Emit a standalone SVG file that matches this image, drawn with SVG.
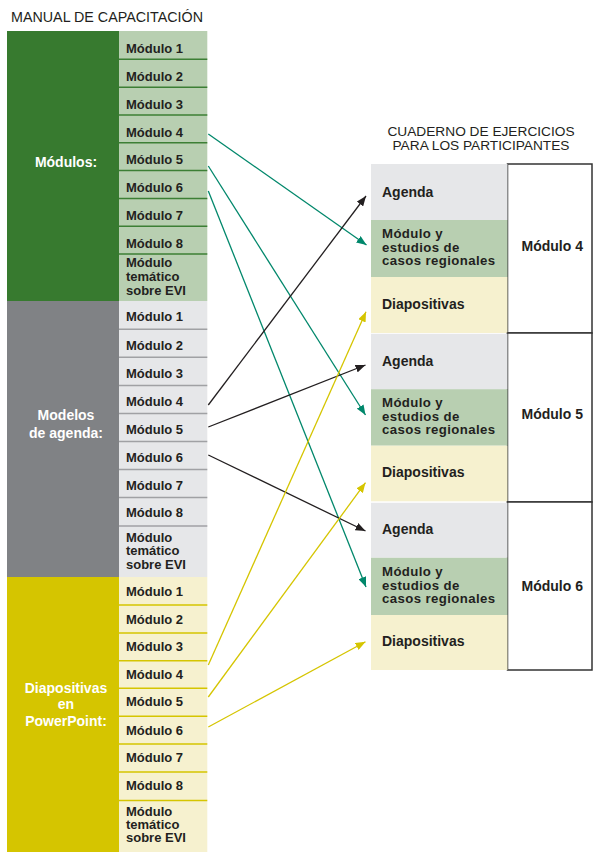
<svg xmlns="http://www.w3.org/2000/svg" width="594" height="856" viewBox="0 0 594 856">
<style>
.hdr{font-family:"Liberation Sans",Arial,sans-serif;font-size:14.3px;fill:#231f20}
.c{font-family:"Liberation Sans",Arial,sans-serif;font-size:13px;font-weight:bold;fill:#231f20}
.r{font-family:"Liberation Sans",Arial,sans-serif;font-size:14px;font-weight:bold;fill:#231f20}
.m{font-family:"Liberation Sans",Arial,sans-serif;font-size:13.2px;letter-spacing:0.4px;font-weight:bold;fill:#231f20}
.w{font-family:"Liberation Sans",Arial,sans-serif;font-size:14px;font-weight:bold;fill:#ffffff;text-anchor:middle}
.sg{stroke:#3c7f35;stroke-width:1.5}
.sy{stroke:#a0a1a4;stroke-width:1.5}
.sl{stroke:#d5c500;stroke-width:1.5}
.frame{fill:#ffffff;stroke:#333333;stroke-width:1.5}
.ln{fill:none;stroke-width:1.3}
</style>
<defs>
<marker id="ag" markerUnits="userSpaceOnUse" markerWidth="10" markerHeight="8" refX="10" refY="4" orient="auto"><path d="M0,0 L10,4 L0,8 Z" fill="#00876b"/></marker>
<marker id="ak" markerUnits="userSpaceOnUse" markerWidth="10" markerHeight="8" refX="10" refY="4" orient="auto"><path d="M0,0 L10,4 L0,8 Z" fill="#231f20"/></marker>
<marker id="ay" markerUnits="userSpaceOnUse" markerWidth="10" markerHeight="8" refX="10" refY="4" orient="auto"><path d="M0,0 L10,4 L0,8 Z" fill="#d5c500"/></marker>
</defs>
<rect width="594" height="856" fill="#ffffff"/>
<text class="hdr" x="11" y="21.5">MANUAL DE CAPACITACIÓN</text>
<text class="hdr" x="481" y="136" text-anchor="middle" style="font-size:13.7px">CUADERNO DE EJERCICIOS</text>
<text class="hdr" x="481" y="149.5" text-anchor="middle" style="font-size:13.7px">PARA LOS PARTICIPANTES</text>

<g id="modulos">
<rect x="7" y="31" width="112" height="270" fill="#377a2f"/>
<rect x="119" y="31" width="88.3" height="270" fill="#b8cfb1"/>
<text class="w" x="66" y="167">Módulos:</text>
<g class="sg">
<line x1="119" y1="59.3" x2="207.3" y2="59.3"/><line x1="119" y1="87.2" x2="207.3" y2="87.2"/>
<line x1="119" y1="115" x2="207.3" y2="115"/><line x1="119" y1="142.8" x2="207.3" y2="142.8"/>
<line x1="119" y1="170.6" x2="207.3" y2="170.6"/><line x1="119" y1="198.4" x2="207.3" y2="198.4"/>
<line x1="119" y1="226.2" x2="207.3" y2="226.2"/><line x1="119" y1="254" x2="207.3" y2="254"/>
</g>
<text class="c" x="126" y="53">Módulo 1</text>
<text class="c" x="126" y="81">Módulo 2</text>
<text class="c" x="126" y="109">Módulo 3</text>
<text class="c" x="126" y="136.5">Módulo 4</text>
<text class="c" x="126" y="164.3">Módulo 5</text>
<text class="c" x="126" y="192.1">Módulo 6</text>
<text class="c" x="126" y="219.9">Módulo 7</text>
<text class="c" x="126" y="247.7">Módulo 8</text>
<text class="c" x="126" y="267.3">Módulo</text>
<text class="c" x="126" y="281">temático</text>
<text class="c" x="126" y="294.5">sobre EVI</text>
</g>

<g id="agenda">
<rect x="7" y="301" width="112" height="276" fill="#808285"/>
<rect x="119" y="301" width="88.3" height="276" fill="#e6e7e9"/>
<text class="w" x="66" y="420">Modelos</text>
<text class="w" x="66" y="437.5">de agenda:</text>
<g class="sy">
<line x1="119" y1="329.2" x2="207.3" y2="329.2"/><line x1="119" y1="357.3" x2="207.3" y2="357.3"/>
<line x1="119" y1="385.5" x2="207.3" y2="385.5"/><line x1="119" y1="413.5" x2="207.3" y2="413.5"/>
<line x1="119" y1="441.5" x2="207.3" y2="441.5"/><line x1="119" y1="469.5" x2="207.3" y2="469.5"/>
<line x1="119" y1="497.5" x2="207.3" y2="497.5"/><line x1="119" y1="526" x2="207.3" y2="526"/>
</g>
<text class="c" x="126" y="321.3">Módulo 1</text>
<text class="c" x="126" y="349.5">Módulo 2</text>
<text class="c" x="126" y="377.6">Módulo 3</text>
<text class="c" x="126" y="405.8">Módulo 4</text>
<text class="c" x="126" y="433.8">Módulo 5</text>
<text class="c" x="126" y="461.8">Módulo 6</text>
<text class="c" x="126" y="489.8">Módulo 7</text>
<text class="c" x="126" y="517">Módulo 8</text>
<text class="c" x="126" y="541.7">Módulo</text>
<text class="c" x="126" y="555.3">temático</text>
<text class="c" x="126" y="569">sobre EVI</text>
</g>

<g id="diapositivas">
<rect x="7" y="577" width="112" height="275" fill="#d5c500"/>
<rect x="119" y="577" width="88.3" height="275" fill="#f6f1cf"/>
<text class="w" x="66" y="692.7">Diapositivas</text>
<text class="w" x="66" y="709.3">en</text>
<text class="w" x="66" y="725.5">PowerPoint:</text>
<g class="sl">
<line x1="119" y1="605" x2="207.3" y2="605"/><line x1="119" y1="633" x2="207.3" y2="633"/>
<line x1="119" y1="660.7" x2="207.3" y2="660.7"/><line x1="119" y1="688.3" x2="207.3" y2="688.3"/>
<line x1="119" y1="716.3" x2="207.3" y2="716.3"/><line x1="119" y1="744" x2="207.3" y2="744"/>
<line x1="119" y1="772" x2="207.3" y2="772"/><line x1="119" y1="800.5" x2="207.3" y2="800.5"/>
</g>
<text class="c" x="126" y="596">Módulo 1</text>
<text class="c" x="126" y="623.5">Módulo 2</text>
<text class="c" x="126" y="650.5">Módulo 3</text>
<text class="c" x="126" y="678.5">Módulo 4</text>
<text class="c" x="126" y="706.3">Módulo 5</text>
<text class="c" x="126" y="734.5">Módulo 6</text>
<text class="c" x="126" y="762">Módulo 7</text>
<text class="c" x="126" y="790">Módulo 8</text>
<text class="c" x="126" y="815.7">Módulo</text>
<text class="c" x="126" y="829">temático</text>
<text class="c" x="126" y="842.3">sobre EVI</text>
</g>

<g id="cuaderno-modulo4">
<rect class="frame" x="507.5" y="164" width="84.5" height="169"/>
<rect x="371" y="164" width="136.5" height="56" fill="#e6e7e9"/>
<rect x="371" y="220" width="136.5" height="57" fill="#b8cfb1"/>
<rect x="371" y="277" width="136.5" height="56" fill="#f6f1cf"/>
<text class="r" x="382" y="196.5">Agenda</text>
<text class="m" x="382" y="238.3">Módulo y</text>
<text class="m" x="382" y="251.8">estudios de</text>
<text class="m" x="382" y="265.3">casos regionales</text>
<text class="r" x="382" y="309">Diapositivas</text>
<text class="r" x="521.5" y="251">Módulo 4</text>
</g>

<g id="cuaderno-modulo5">
<rect class="frame" x="507.5" y="333" width="84.5" height="169"/>
<rect x="371" y="333.8" width="136.5" height="55.4" fill="#e6e7e9"/>
<rect x="371" y="389.2" width="136.5" height="56.5" fill="#b8cfb1"/>
<rect x="371" y="445.7" width="136.5" height="55.6" fill="#f6f1cf"/>
<text class="r" x="382" y="366">Agenda</text>
<text class="m" x="382" y="407.3">Módulo y</text>
<text class="m" x="382" y="420.8">estudios de</text>
<text class="m" x="382" y="434.3">casos regionales</text>
<text class="r" x="382" y="477">Diapositivas</text>
<text class="r" x="521.5" y="419">Módulo 5</text>
</g>

<g id="cuaderno-modulo6">
<rect class="frame" x="507.5" y="502" width="84.5" height="168"/>
<rect x="371" y="502.8" width="136.5" height="55" fill="#e6e7e9"/>
<rect x="371" y="557.8" width="136.5" height="57.2" fill="#b8cfb1"/>
<rect x="371" y="615" width="136.5" height="55" fill="#f6f1cf"/>
<text class="r" x="382" y="534">Agenda</text>
<text class="m" x="382" y="576">Módulo y</text>
<text class="m" x="382" y="589.5">estudios de</text>
<text class="m" x="382" y="603">casos regionales</text>
<text class="r" x="382" y="646">Diapositivas</text>
<text class="r" x="521.5" y="591">Módulo 6</text>
</g>

<g id="connectors" class="ln">
<line x1="208.3" y1="134" x2="366.5" y2="245" stroke="#00876b" marker-end="url(#ag)"/>
<line x1="208.3" y1="166" x2="365.5" y2="415" stroke="#00876b" marker-end="url(#ag)"/>
<line x1="208.3" y1="191" x2="366" y2="587" stroke="#00876b" marker-end="url(#ag)"/>
<line x1="208.3" y1="405" x2="366" y2="196" stroke="#231f20" marker-end="url(#ak)"/>
<line x1="208.3" y1="427" x2="365.5" y2="365" stroke="#231f20" marker-end="url(#ak)"/>
<line x1="208.3" y1="455" x2="365.5" y2="531" stroke="#231f20" marker-end="url(#ak)"/>
<line x1="208.3" y1="665" x2="366" y2="311.7" stroke="#d5c500" marker-end="url(#ay)"/>
<line x1="208.3" y1="697" x2="365.5" y2="482.7" stroke="#d5c500" marker-end="url(#ay)"/>
<line x1="208.3" y1="727" x2="365.5" y2="641.7" stroke="#d5c500" marker-end="url(#ay)"/>
</g>
</svg>
